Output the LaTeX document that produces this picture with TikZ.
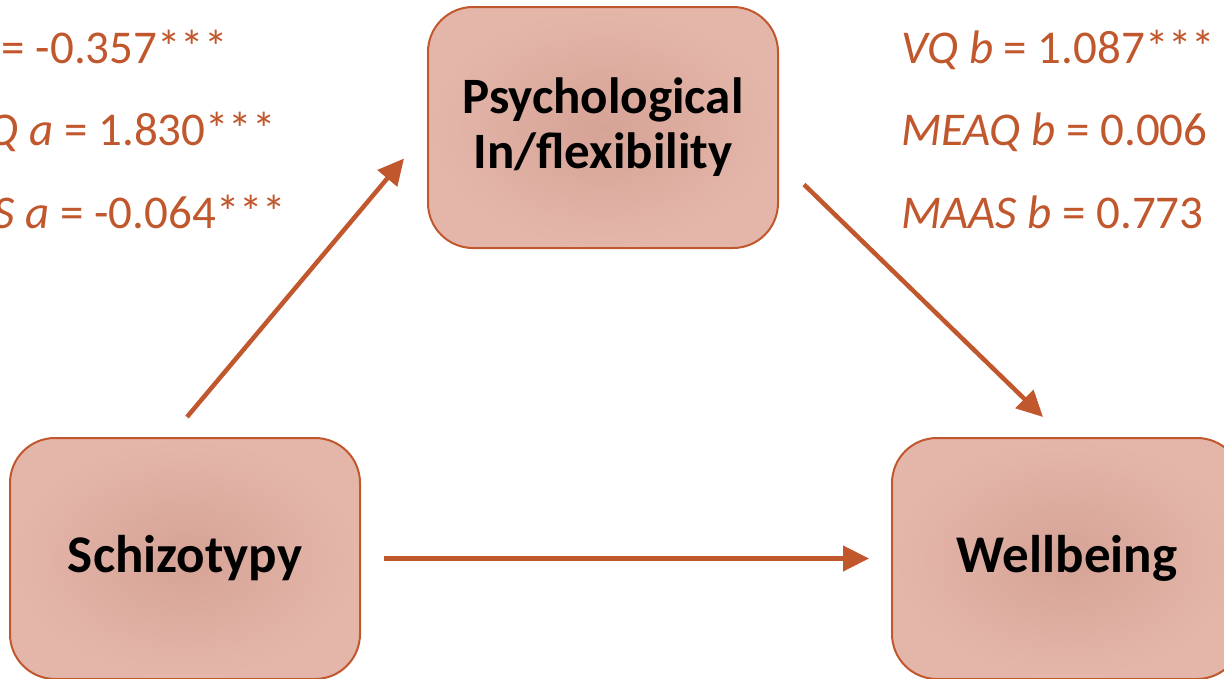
\documentclass[tikz,border=0pt]{standalone}
\usepackage{fontspec}
\setmainfont{Carlito}
\usetikzlibrary{arrows.meta,calc}
\definecolor{rust}{RGB}{192,87,45}
\definecolor{boxin}{RGB}{214,163,150}
\definecolor{boxout}{RGB}{228,182,170}
\tikzset{
  box/.style={draw=rust, line width=2pt, rounded corners=45pt, minimum width=350pt, minimum height=241pt,
    inner color=boxin, outer color=boxout, align=center, font=\fontsize{53}{62}\selectfont\bfseries, text=black},
  coef/.style={anchor=base west, text=rust, inner sep=0pt, font=\fontsize{47}{56}\selectfont},
  link/.style={draw=rust, line width=4.5pt, -{Triangle[length=26pt,width=25pt]}}
}
\begin{document}
\begin{tikzpicture}[x=1pt,y=-1pt]
\useasboundingbox (0,0) rectangle (1224,678);
\clip (0,0) rectangle (1224,678);
\node[box, font=\fontsize{51}{55}\selectfont\bfseries] (psy) at (603,127.5) {Psychological\\In/flexibility};
\node[box] (sch) at (185,558.5) {Schizotypy};
\node[box] (wel) at (1067,558.5) {Wellbeing};
\node[coef] (la1) at (-101,63) {\textit{VQ a} = -0.357***};
\node[coef] (la2) at (-101,145) {\textit{MEAQ a} = 1.830***};
\node[coef] (la3) at (-101,228) {\textit{MAAS a} = -0.064***};
\node[coef] (rb1) at (901,63) {\textit{VQ b} = 1.087***};
\node[coef] (rb2) at (901,145) {\textit{MEAQ b} = 0.006};
\node[coef] (rb3) at (901,228) {\textit{MAAS b} = 0.773};
\draw[link] ($(sch.north)+(2,-20)$) -- ($(psy.west)+(-23,31)$);
\draw[link] ($(psy.east)+(25,57)$) -- ($(wel.north)+(-24,-20)$);
\draw[link] ($(sch.east)+(23,0)$) -- ($(wel.west)+(-22,0)$);
\end{tikzpicture}
\end{document}
